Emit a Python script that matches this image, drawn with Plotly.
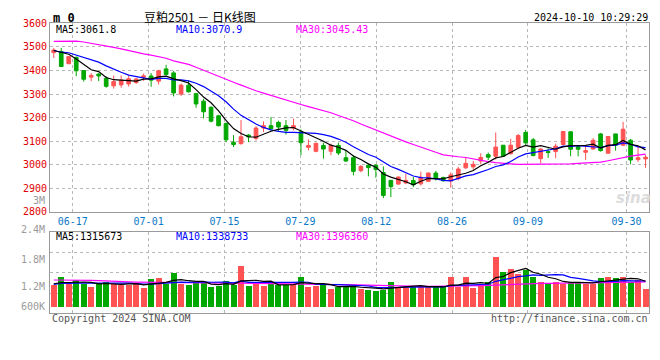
import plotly.graph_objects as go

# ---------------- data ----------------
tick_labels = ["06-17", "07-01", "07-15", "07-29", "08-12", "08-26", "09-09", "09-30"]
tick_index = [3, 13, 23, 33, 43, 53, 63, 76]

opens = [3476, 3481, 3429, 3456, 3400, 3372, 3385, 3367, 3335, 3339,
         3343, 3349, 3372, 3377, 3355, 3407, 3390, 3300, 3338, 3302,
         3270, 3244, 3208, 3175, 3096, 3090, 3126, 3112, 3156, 3166,
         3180, 3166, 3156, 3140, 3074, 3057, 3082, 3057, 3082, 3030,
         3030, 2975, 2998, 2998, 2967, 2934, 2918, 2923, 2933, 2919,
         2930, 2965, 2946, 2932, 2941, 2987, 2991, 3016, 3043, 3036,
         3083, 3047, 3074, 3137, 3106, 3026, 3056, 3056, 3086, 3140,
         3077, 3053, 3067, 3131, 3049, 3131, 3083, 3104, 3022, 3025]
highs = [3496, 3496, 3461, 3459, 3402, 3389, 3389, 3376, 3379, 3379,
         3379, 3369, 3387, 3389, 3403, 3424, 3398, 3345, 3358, 3305,
         3280, 3248, 3212, 3180, 3126, 3190, 3130, 3164, 3184, 3203,
         3187, 3190, 3196, 3150, 3108, 3094, 3094, 3090, 3094, 3061,
         3041, 2999, 3002, 3002, 2993, 2935, 2950, 2962, 2948, 2971,
         2967, 2974, 2950, 2968, 2991, 3033, 3016, 3049, 3052, 3137,
         3084, 3110, 3131, 3148, 3114, 3070, 3070, 3090, 3144, 3141,
         3083, 3077, 3113, 3135, 3120, 3131, 3182, 3110, 3076, 3043]
lows = [3453, 3415, 3427, 3376, 3353, 3355, 3355, 3327, 3323, 3327,
        3332, 3343, 3356, 3331, 3341, 3379, 3290, 3292, 3306, 3242,
        3197, 3180, 3163, 3096, 3075, 3085, 3096, 3103, 3139, 3146,
        3142, 3128, 3146, 3041, 3061, 3053, 3026, 3041, 3041, 3012,
        2955, 2968, 2951, 2945, 2859, 2863, 2915, 2918, 2905, 2912,
        2926, 2933, 2929, 2903, 2934, 2982, 2979, 3002, 3020, 3022,
        3033, 3043, 3070, 3083, 3036, 3006, 3029, 3028, 3083, 3036,
        3036, 3020, 3063, 3056, 3047, 3060, 3079, 3002, 3012, 2987]
closes = [3487, 3417, 3459, 3399, 3363, 3379, 3377, 3333, 3353, 3359,
          3365, 3364, 3377, 3359, 3399, 3383, 3305, 3338, 3310, 3258,
          3225, 3185, 3166, 3106, 3086, 3119, 3118, 3156, 3166, 3153,
          3160, 3146, 3166, 3094, 3082, 3091, 3067, 3082, 3050, 3016,
          2972, 2993, 2988, 2980, 2870, 2907, 2948, 2934, 2915, 2947,
          2965, 2944, 2932, 2957, 2982, 3006, 3002, 3031, 3032, 3075,
          3036, 3083, 3124, 3093, 3039, 3067, 3052, 3079, 3141, 3066,
          3066, 3060, 3104, 3060, 3120, 3083, 3151, 3020, 3030, 3032]
volumes = [1236000, 1400000, 1250000, 1336000, 1257000, 1186000, 1243000, 1293000, 1257000, 1236000,
           1236000, 1279000, 1164000, 1357000, 1379000, 1257000, 1500000, 1257000, 1229000, 1307000,
           1271000, 1179000, 1214000, 1329000, 1229000, 1650000, 1207000, 1257000, 1207000, 1257000,
           1236000, 1236000, 1257000, 1414000, 1186000, 1207000, 1236000, 1143000, 1186000, 1214000,
           1214000, 1143000, 1129000, 1093000, 1129000, 1307000, 1186000, 1214000, 1186000, 1186000,
           1186000, 1186000, 1186000, 1400000, 1186000, 1400000, 1164000, 1257000, 1307000, 1843000,
           1521000, 1593000, 1471000, 1557000, 1414000, 1307000, 1257000, 1307000, 1257000, 1307000,
           1307000, 1257000, 1257000, 1379000, 1414000, 1379000, 1414000, 1286000, 1343000, 1143000]
# closes / volumes of the days before the window (needed by the moving averages)
prior_closes = [3490, 3482, 3500, 3486, 3467, 3462, 3494, 3499, 3483]
prior_volumes = [1210000, 1240000, 1190000, 1250000, 1260000, 1280000, 1230000, 1290000, 1249000]
ma30_price = [3524, 3525, 3526, 3525, 3521, 3516, 3510, 3504, 3498, 3492,
              3484, 3477, 3471, 3465, 3459, 3452, 3441, 3434, 3426, 3414,
              3401, 3386, 3374, 3362, 3350, 3338, 3325, 3314, 3304, 3294,
              3283, 3273, 3263, 3256, 3247, 3239, 3230, 3221, 3209, 3199,
              3187, 3173, 3160, 3147, 3134, 3122, 3109, 3097, 3086, 3076,
              3064, 3053, 3042, 3037, 3034, 3031, 3024, 3018, 3013, 3009,
              3005, 3004, 3002, 3002, 3002, 3002, 3002, 3002, 3003, 3004,
              3006, 3007, 3008, 3011, 3017, 3024, 3031, 3037, 3041, 3045]
ma30_volume = [1340000, 1340000, 1342000, 1341000, 1338000, 1332000, 1325000, 1315000, 1305000, 1300000,
               1298000, 1293000, 1290000, 1287000, 1285000, 1283000, 1282000, 1280000, 1280000, 1279000,
               1278000, 1276000, 1274000, 1272000, 1270000, 1271000, 1270000, 1268000, 1266000, 1265000,
               1264000, 1262000, 1260000, 1258000, 1256000, 1252000, 1248000, 1244000, 1240000, 1236000,
               1232000, 1226000, 1220000, 1212000, 1205000, 1202000, 1200000, 1200000, 1199000, 1198000,
               1198000, 1199000, 1200000, 1202000, 1205000, 1208000, 1212000, 1217000, 1222000, 1230000,
               1238000, 1245000, 1252000, 1258000, 1262000, 1265000, 1267000, 1268000, 1270000, 1271000,
               1272000, 1274000, 1276000, 1278000, 1281000, 1284000, 1287000, 1291000, 1294000, 1298000]

header_ma_price = ["MA5:3061.8", "MA10:3070.9", "MA30:3045.43"]
header_ma_volume = ["MA5:1315673", "MA10:1338733", "MA30:1396360"]
price_ticks = [2800, 2900, 3000, 3100, 3200, 3300, 3400, 3500, 3600]
volume_labels = [(2400000, "2.4M"), (1800000, "1.8M"), (1200000, "1.2M"), (600000, "600K")]

# ---------------- derived ----------------
n = len(closes)
xs = list(range(n))


def moving_avg(prior, vals, k):
    seq = list(prior) + list(vals)
    off = len(prior)
    return [sum(seq[off + i - k + 1: off + i + 1]) / k for i in range(len(vals))]


ma5 = moving_avg(prior_closes, closes, 5)
ma10 = moving_avg(prior_closes, closes, 10)
vma5 = moving_avg(prior_volumes, volumes, 5)
vma10 = moving_avg(prior_volumes, volumes, 10)

RED = "#ff5252"
GREEN = "#00a800"
vol_colors = [RED if c >= o else GREEN for o, c in zip(opens, closes)]
VOL_BASE = 750000

W, H = 660, 360


def px(x):
    return x / W


def py(y):
    return 1 - y / H


XL, XR = 50, 649.3
grid_pos = [d * n / (n - 1) - 0.5 for d in tick_index]

MONO = "DejaVu Sans Mono"
GRID = "#b8b8b8"
BORDER = "#9a9a9a"

fig = go.Figure()
fig.add_trace(go.Candlestick(
    x=xs, open=opens, high=highs, low=lows, close=closes,
    increasing=dict(line=dict(color=RED, width=1), fillcolor=RED),
    decreasing=dict(line=dict(color=GREEN, width=1), fillcolor=GREEN),
    xaxis="x", yaxis="y", hoverinfo="skip", showlegend=False))
for vals, col in [(ma30_price, "#ff00ff"), (ma10, "#0000ff"), (ma5, "#000000")]:
    fig.add_trace(go.Scatter(x=xs, y=vals, mode="lines", line=dict(color=col, width=1.2),
                             xaxis="x", yaxis="y", hoverinfo="skip", showlegend=False))

fig.add_trace(go.Bar(x=xs, y=[v - VOL_BASE for v in volumes], base=VOL_BASE,
                     marker=dict(color=vol_colors, line=dict(width=0)), width=0.8,
                     xaxis="x2", yaxis="y2", hoverinfo="skip", showlegend=False))
for vals, col in [(ma30_volume, "#ff00ff"), (vma10, "#0000ff"), (vma5, "#000000")]:
    fig.add_trace(go.Scatter(x=xs, y=vals, mode="lines", line=dict(color=col, width=1.2),
                             xaxis="x2", yaxis="y2", hoverinfo="skip", showlegend=False))

xaxis_common = dict(domain=[px(XL), px(XR)], range=[-0.5, n - 0.5], tickvals=grid_pos,
                    showgrid=True, gridcolor=GRID, griddash="dot", gridwidth=1,
                    showline=True, mirror=True, linecolor=BORDER, linewidth=1,
                    ticks="", zeroline=False, fixedrange=True)

fig.update_layout(
    width=W, height=H, margin=dict(l=0, r=0, t=0, b=0),
    paper_bgcolor="white", plot_bgcolor="white",
    showlegend=False, bargap=0,
    xaxis=dict(**xaxis_common, anchor="y", ticktext=tick_labels,
               tickfont=dict(family=MONO, size=10, color="#0a78c8"),
               rangeslider=dict(visible=False)),
    xaxis2=dict(**xaxis_common, anchor="y2", showticklabels=False),
    yaxis=dict(domain=[py(213), py(18)], range=[2800, 3600], tickvals=price_ticks,
               tickfont=dict(family=MONO, size=10, color="#e00000"),
               showgrid=True, gridcolor=GRID, griddash="dot", gridwidth=1,
               showline=True, mirror=True, linecolor=BORDER, linewidth=1,
               ticks="", zeroline=False, anchor="x", fixedrange=True),
    yaxis2=dict(domain=[py(318), py(234)], range=[600000, 2400000],
                tickvals=[1050000, 1500000, 1950000], showticklabels=False,
                showgrid=True, gridcolor=GRID, griddash="dot", gridwidth=1,
                showline=True, mirror=True, linecolor=BORDER, linewidth=1,
                ticks="", zeroline=False, anchor="x2", fixedrange=True),
)

ann = []


def text(x, y, s, color="#000", size=10, anchor="left", family=MONO, xref="paper", yref="paper",
         weight="normal", style="normal", yshift=0):
    ann.append(dict(x=x, y=y, xref=xref, yref=yref, text=s, showarrow=False,
                    xanchor=anchor, yanchor="middle", yshift=yshift,
                    font=dict(family=family, size=size, color=color, weight=weight, style=style)))


text(px(51), py(12), "m 0", size=12, weight="bold")
text(px(200), py(11), "豆粕2501 － 日K线图", size=12, anchor="center", family="Noto Sans CJK SC")
text(px(649.5), py(12), "2024-10-10 10:29:29", anchor="right")
text(px(54), py(24), header_ma_price[0], color="#000000")
text(px(174), py(24), header_ma_price[1], color="#0000ff")
text(px(294), py(24), header_ma_price[2], color="#ff00ff")
text(px(54), py(238.5), header_ma_volume[0], color="#000000")
text(px(174), py(238.5), header_ma_volume[1], color="#0000ff")
text(px(294), py(238.5), header_ma_volume[2], color="#ff00ff")
text(px(46.5), py(201), "3M", color="#9a9a9a", anchor="right")
for v, s in volume_labels:
    shift = 3 if v == 2400000 else (7 if v == 600000 else 0)
    text(px(46.5), v, s, color="#9a9a9a", anchor="right", yref="y2", yshift=shift)
text(px(50), py(323.5), "Copyright 2024 SINA.COM", color="#555555")
text(px(649.5), py(323.5), "http://finance.sina.com.cn", color="#555555", anchor="right")
text(px(633), py(199), "sina", color="#dcdcdc", size=15, anchor="center",
     family="DejaVu Sans", weight="bold", style="italic")
fig.update_layout(annotations=ann)

fig.write_html("out.html", config={"displayModeBar": False, "staticPlot": True},
               post_script="document.body.style.margin='0';document.body.style.overflow='hidden';")
